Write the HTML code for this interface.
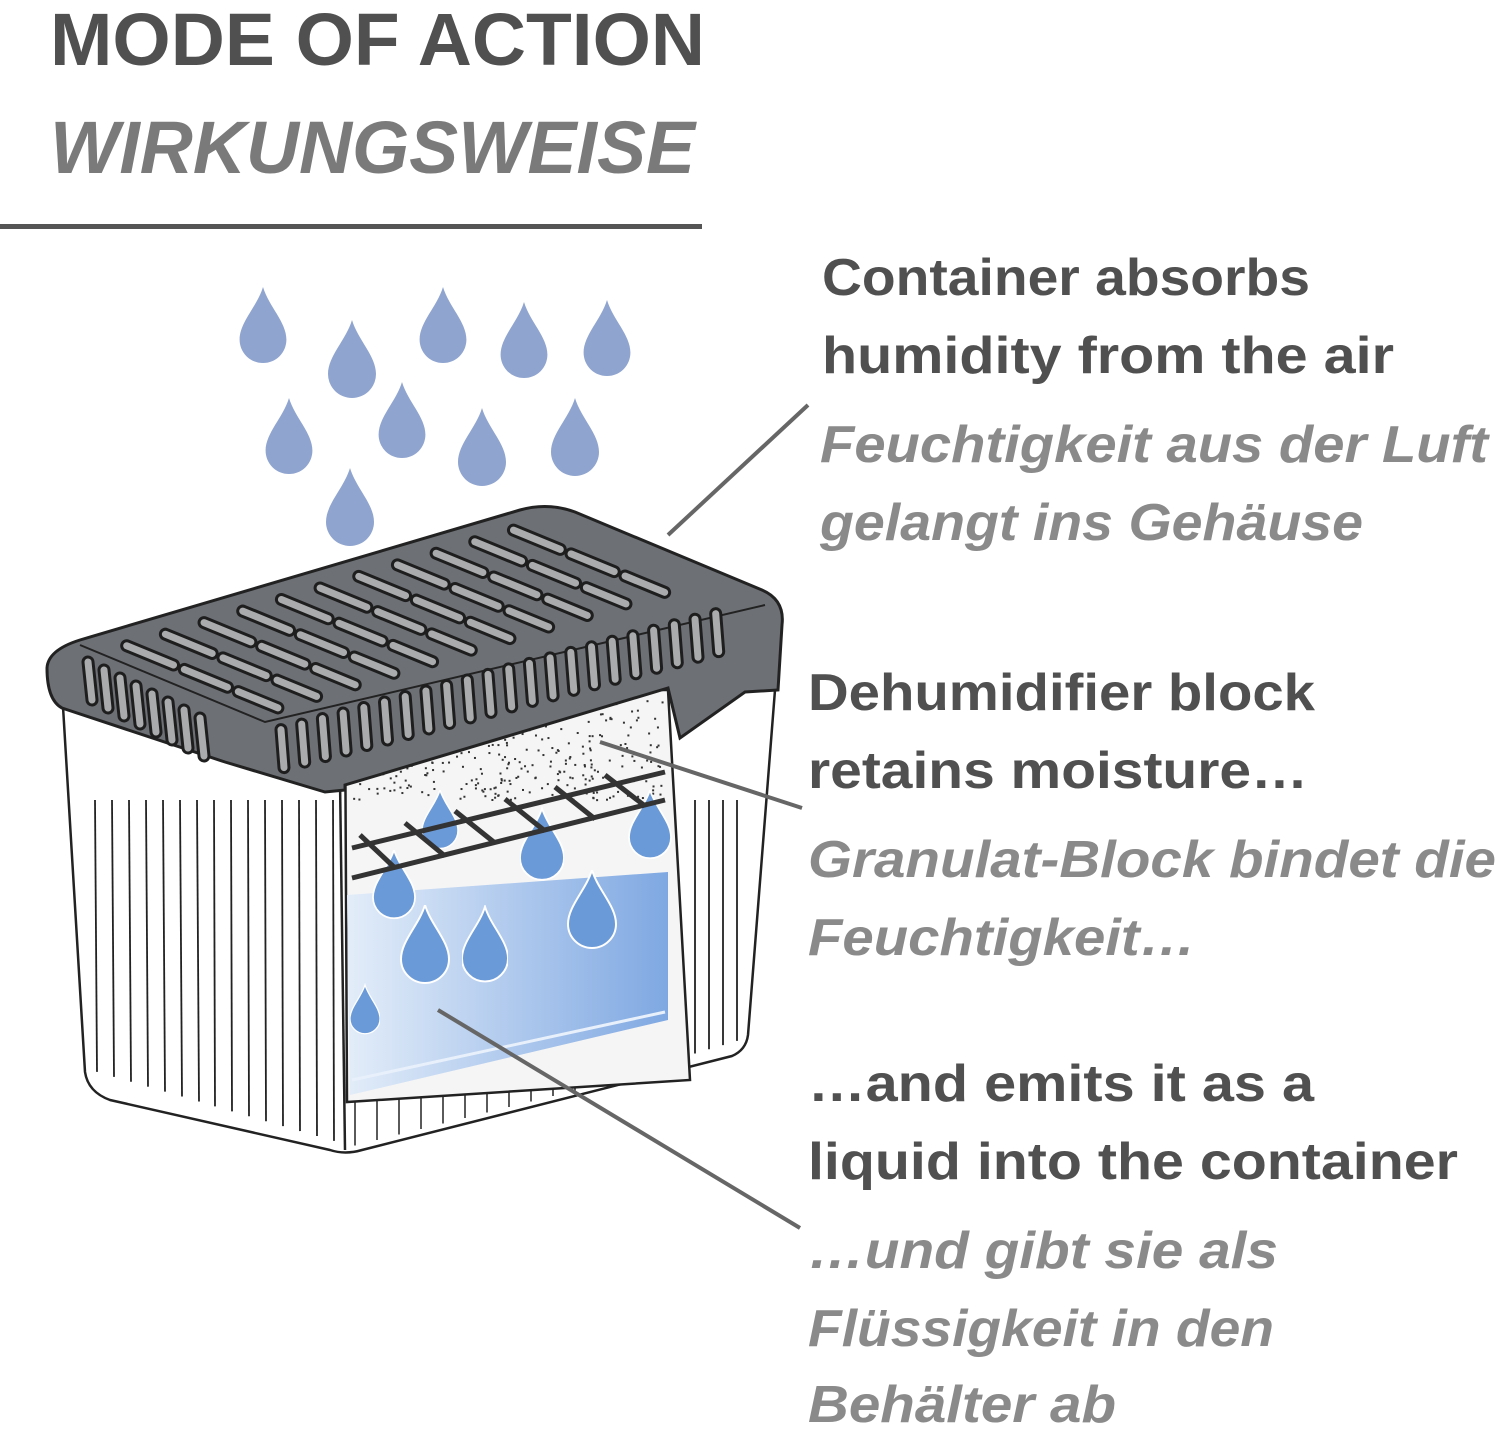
<!DOCTYPE html>
<html><head><meta charset="utf-8"><style>
html,body{margin:0;padding:0;background:#fff}
svg{display:block}
.b{font-family:"Liberation Sans",sans-serif;font-weight:bold;fill:#505050;font-size:52px}
.i{font-family:"Liberation Sans",sans-serif;font-style:italic;font-weight:bold;fill:#8a8a8a;font-size:52px}
</style></head><body>
<svg id="s" width="1500" height="1430" viewBox="0 0 1500 1430" xmlns="http://www.w3.org/2000/svg">
<defs>
<linearGradient id="liq" x1="0" x2="1" y1="0" y2="0"><stop offset="0" stop-color="#e3edf9"/><stop offset="1" stop-color="#7fa8e2"/></linearGradient>
<symbol id="drop" viewBox="0 0 48 80"><path d="M24 0 C30 20 48 36 48 54 A24 24 0 0 1 0 54 C0 36 18 20 24 0Z"/></symbol>
</defs>
<text x="50" y="65" class="b" style="font-size:74px" textLength="655" lengthAdjust="spacingAndGlyphs">MODE OF ACTION</text>
<text x="50" y="173" class="i" style="font-size:74px;fill:#7a7a7a" textLength="645" lengthAdjust="spacingAndGlyphs">WIRKUNGSWEISE</text>
<rect x="0" y="224" width="702" height="5" fill="#555"/>

<g fill="#8fa4cf">
<use href="#drop" x="239" y="287" width="48" height="78"/>
<use href="#drop" x="328" y="320" width="48" height="80"/>
<use href="#drop" x="419" y="287" width="48" height="78"/>
<use href="#drop" x="500" y="302" width="48" height="78"/>
<use href="#drop" x="583" y="300" width="48" height="78"/>
<use href="#drop" x="265" y="398" width="48" height="78"/>
<use href="#drop" x="378" y="382" width="48" height="78"/>
<use href="#drop" x="458" y="408" width="48" height="80"/>
<use href="#drop" x="551" y="398" width="48" height="80"/>
<use href="#drop" x="326" y="468" width="48" height="80"/>
</g>

<!-- body -->
<path d="M62,690 L85,1072 Q88,1092 110,1100 L330,1150 Q345,1155 362,1150 L732,1056 Q746,1050 748,1035 L775,690 Z" fill="#fff" stroke="#222" stroke-width="2.5"/>
<line x1="340" y1="780" x2="345" y2="1150" stroke="#222" stroke-width="2.5"/>
<g id="ribs" stroke="#222" stroke-width="1.8"></g>
<!-- cutout -->
<path d="M345,690 L668,690 L690,1080 L347,1102 Z" fill="#f5f5f5" stroke="#222" stroke-width="2.5"/>
<path d="M347,895 L668,872 L668,1020 L350,1095 Z" fill="url(#liq)"/>
<line x1="352" y1="1080" x2="665" y2="1012" stroke="#e8f0fb" stroke-width="3"/>
<g id="speck" fill="#333"></g>
<g fill="#6b9ad8" stroke="#fff" stroke-width="2">
<use href="#drop" x="400" y="905" width="50" height="80"/>
<use href="#drop" x="462" y="905" width="46" height="80"/>
<use href="#drop" x="567" y="870" width="50" height="80"/>
<use href="#drop" x="520" y="805" width="44" height="80"/>
<use href="#drop" x="372" y="850" width="44" height="70"/>
<use href="#drop" x="628" y="790" width="44" height="70"/>
<use href="#drop" x="350" y="975" width="30" height="70"/>
<use href="#drop" x="420" y="790" width="40" height="60"/>
</g>
<!-- grid -->
<g stroke="#333" stroke-width="5" fill="none">
<line x1="352" y1="848" x2="665" y2="772"/>
<line x1="352" y1="878" x2="665" y2="800"/>
<line x1="360" y1="835" x2="395" y2="868"/>
<line x1="405" y1="823" x2="445" y2="856"/>
<line x1="455" y1="811" x2="495" y2="843"/>
<line x1="505" y1="799" x2="545" y2="831"/>
<line x1="555" y1="787" x2="595" y2="819"/>
<line x1="605" y1="775" x2="645" y2="806"/>
</g>
<!-- lid -->
<path d="M47,668 Q48,650 80,640 L520,510 Q548,502 575,512 L762,590 Q785,600 782,625 L778,690 L745,692 L680,738 L668,688 L345,785 L345,790 L325,792 L225,762 L62,708 Q47,700 47,668 Z" fill="#6d7075" stroke="#222" stroke-width="3"/>
<path d="M80,645 L265,722 L765,605" fill="none" stroke="#222" stroke-width="2"/>
<g id="slots" stroke-linecap="round"></g>

<!-- leaders -->
<g stroke="#666" stroke-width="4">
<line x1="808" y1="405" x2="668" y2="535"/>
<line x1="802" y1="808" x2="600" y2="742"/>
<line x1="800" y1="1228" x2="438" y2="1010"/>
</g>

<text x="822" y="295" class="b" textLength="488" lengthAdjust="spacingAndGlyphs">Container absorbs</text>
<text x="822" y="373" class="b" textLength="572" lengthAdjust="spacingAndGlyphs">humidity from the air</text>
<text x="820" y="462" class="i" textLength="668" lengthAdjust="spacingAndGlyphs">Feuchtigkeit aus der Luft</text>
<text x="820" y="540" class="i" textLength="543" lengthAdjust="spacingAndGlyphs">gelangt ins Gehäuse</text>
<text x="808" y="710" class="b" textLength="507" lengthAdjust="spacingAndGlyphs">Dehumidifier block</text>
<text x="808" y="788" class="b" textLength="500" lengthAdjust="spacingAndGlyphs">retains moisture…</text>
<text x="808" y="877" class="i" textLength="688" lengthAdjust="spacingAndGlyphs">Granulat-Block bindet die</text>
<text x="808" y="955" class="i" textLength="388" lengthAdjust="spacingAndGlyphs">Feuchtigkeit…</text>
<text x="808" y="1101" class="b" textLength="506" lengthAdjust="spacingAndGlyphs">…and emits it as a</text>
<text x="808" y="1179" class="b" textLength="650" lengthAdjust="spacingAndGlyphs">liquid into the container</text>
<text x="808" y="1268" class="i" textLength="470" lengthAdjust="spacingAndGlyphs">…und gibt sie als</text>
<text x="808" y="1346" class="i" textLength="466" lengthAdjust="spacingAndGlyphs">Flüssigkeit in den</text>
<text x="808" y="1422" class="i" textLength="308" lengthAdjust="spacingAndGlyphs">Behälter ab</text>
</svg>
<script>
var NS="http://www.w3.org/2000/svg";
function L(g,x1,y1,x2,y2,c,w){var l=document.createElementNS(NS,"line");l.setAttribute("x1",x1);l.setAttribute("y1",y1);l.setAttribute("x2",x2);l.setAttribute("y2",y2);l.setAttribute("stroke",c);l.setAttribute("stroke-width",w);g.appendChild(l);}
var s=document.getElementById("slots");
function slot(x1,y1,x2,y2){L(s,x1,y1,x2,y2,"#1e1e1e",13);L(s,x1,y1,x2,y2,"#a9abad",7);}
var Lx=85,Ly=648,Bx=540,By=512,Fx=265,Fy=722;
for(var i=0;i<11;i++){var u=0.06+i*0.085;
 [[0.08,0.34],[0.40,0.64],[0.70,0.92]].forEach(function(v){
  var ax=Lx+u*(Bx-Lx)+v[0]*(Fx-Lx),ay=Ly+u*(By-Ly)+v[0]*(Fy-Ly);
  var bx=Lx+u*(Bx-Lx)+v[1]*(Fx-Lx),by=Ly+u*(By-Ly)+v[1]*(Fy-Ly);
  slot(ax,ay,bx,by);});}
for(var i=0;i<22;i++){var t=0.02+i*0.046;var x=272+t*(722-272),y=732+t*(612-732);slot(x,y,x+3,y+38);}
for(var i=0;i<8;i++){var x=88+i*16,y=662+i*8;slot(x,y,x+4,y+38);}
var r=document.getElementById("ribs");
for(var x=95;x<335;x+=17){var yb=1075+(x-85)*0.29;L(r,x,800,x+(x<200?2:1),yb-6,"#222",1.8);}
for(var x=695;x<745;x+=14){L(r,x,800,x,1055-(x-690)*0.3,"#222",1.8);}
for(var x=355;x<690;x+=22){var yt=1100-(x-347)*0.06;var yb=1148-(x-345)*0.25;L(r,x,yt,x,yb,"#222",1.5);}
var sp=document.getElementById("speck");var seed=7;function rnd(){seed=(seed*9301+49297)%233280;return seed/233280;}
for(var i=0;i<500;i++){var x=352+rnd()*310,y=700+rnd()*100;if(rnd()<0.5+(y-700)/250){var c=document.createElementNS(NS,"rect");c.setAttribute("x",x);c.setAttribute("y",y);c.setAttribute("width",2);c.setAttribute("height",2);sp.appendChild(c);}}
</script>
</body></html>
